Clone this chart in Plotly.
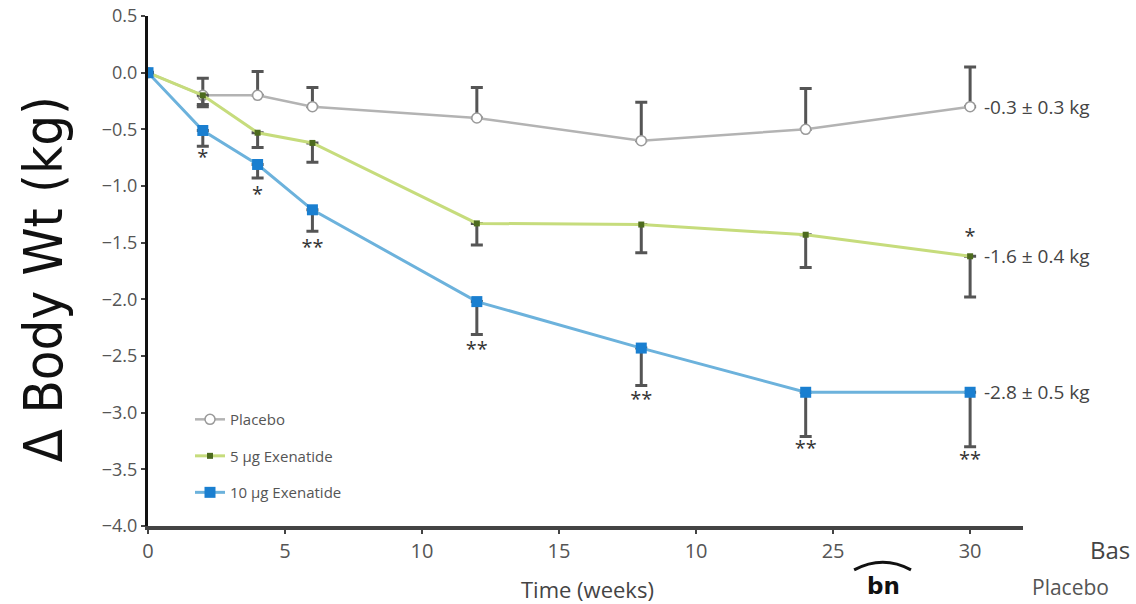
import plotly.graph_objects as go

weeks = [0, 2, 4, 6, 12, 18, 24, 30]
placebo = [0, -0.2, -0.2, -0.3, -0.4, -0.6, -0.5, -0.3]
placebo_err_up = [0, 0.15, 0.21, 0.17, 0.27, 0.34, 0.36, 0.35]
placebo_err_dn = [0, 0.08, 0, 0, 0, 0, 0, 0]
exe5 = [0, -0.2, -0.53, -0.62, -1.33, -1.34, -1.43, -1.62]
exe5_err_dn = [0, 0.1, 0.13, 0.17, 0.19, 0.25, 0.29, 0.36]
exe10 = [0, -0.51, -0.81, -1.21, -2.02, -2.43, -2.82, -2.82]
exe10_err_dn = [0, 0.14, 0.12, 0.19, 0.29, 0.33, 0.39, 0.48]

sig_x = [2, 4, 6, 12, 18, 24, 30, 30]
sig_y = [-0.76, -1.09, -1.56, -2.46, -2.9, -3.33, -3.43, -1.46]
sig_txt = ["*", "*", "**", "**", "**", "**", "**", "*"]

end_labels = ["-0.3 ± 0.3 kg", "-1.6 ± 0.4 kg", "-2.8 ± 0.5 kg"]
end_y = [placebo[-1], exe5[-1], exe10[-1]]

xtick_vals = [0, 5, 10, 15, 20, 25, 30]
xtick_text = ["0", "5", "10", "15", "10", "25", "30"]
ytick_vals = [0.5, 0.0, -0.5, -1.0, -1.5, -2.0, -2.5, -3.0, -3.5, -4.0]

ERR = "#555555"
FONT = "Open Sans"

fig = go.Figure()
fig.add_trace(go.Scatter(
    x=weeks, y=placebo, name="Placebo", mode="lines+markers",
    line=dict(color="#b3b3b3", width=2.5),
    marker=dict(symbol="circle", size=10, color="white", line=dict(color="#9a9a9a", width=1.5)),
    error_y=dict(type="data", symmetric=False, array=placebo_err_up, arrayminus=placebo_err_dn,
                 color=ERR, thickness=3, width=6),
    legendgroup="a",
))
fig.add_trace(go.Scatter(
    x=weeks, y=exe5, name="5 µg Exenatide", mode="lines+markers",
    line=dict(color="#c6dc7c", width=3),
    marker=dict(symbol="square", size=6, color="#4d6b1e"),
    error_y=dict(type="data", symmetric=False, array=[0] * len(weeks), arrayminus=exe5_err_dn,
                 color=ERR, thickness=3, width=6),
    legendgroup="b",
))
fig.add_trace(go.Scatter(
    x=weeks, y=exe10, name="10 µg Exenatide", mode="lines+markers",
    line=dict(color="#6cb2dc", width=3),
    marker=dict(symbol="square", size=11, color="#1a7fd0"),
    error_y=dict(type="data", symmetric=False, array=[0] * len(weeks), arrayminus=exe10_err_dn,
                 color=ERR, thickness=3, width=6),
    legendgroup="c",
))

# significance markers
fig.add_trace(go.Scatter(
    x=sig_x, y=sig_y, mode="text", text=sig_txt, showlegend=False,
    textfont=dict(family=FONT, size=20, color="#333333"), hoverinfo="skip",
))

for lab, yv in zip(end_labels, end_y):
    fig.add_annotation(x=weeks[-1], y=yv, text=lab, xanchor="left", yanchor="middle",
                       xshift=12, showarrow=False,
                       font=dict(family=FONT, size=19, color="#444444"))

# paper coords: plot area spans y 16..526 px
fig.add_annotation(xref="paper", yref="paper", x=-0.12, y=0.484, text="Δ Body Wt (kg)",
                   textangle=-90, showarrow=False, xanchor="center", yanchor="middle",
                   font=dict(family="DejaVu Sans Condensed, DejaVu Sans, sans-serif", size=54,
                             color="#111111"))
fig.add_annotation(xref="paper", yref="paper", x=0.502, y=-0.123, text="Time (weeks)",
                   showarrow=False, xanchor="center", yanchor="middle",
                   font=dict(family=FONT, size=22, color="#444444"))
fig.add_annotation(xref="paper", yref="paper", x=1.074, y=-0.047, text="Bas",
                   showarrow=False, xanchor="left", yanchor="middle",
                   font=dict(family=FONT, size=24, color="#444444"))
fig.add_annotation(xref="paper", yref="paper", x=1.054, y=-0.119, text="Placebo",
                   showarrow=False, xanchor="center", yanchor="middle",
                   font=dict(family=FONT, size=21, color="#555555"))
fig.add_annotation(xref="paper", yref="paper", x=0.84, y=-0.117, text="<b>bn</b>",
                   showarrow=False, xanchor="center", yanchor="middle",
                   font=dict(family="DejaVu Sans", size=23, color="#111111"))
fig.add_shape(type="path", xref="paper", yref="paper",
              path="M 0.807,-0.086 Q 0.84,-0.056 0.872,-0.086",
              line=dict(color="#111111", width=3))

fig.update_layout(
    width=1136, height=604,
    margin=dict(l=148, r=113, t=16, b=78),
    paper_bgcolor="white", plot_bgcolor="white",
    showlegend=True,
    legend=dict(x=0.048, y=0.241, xanchor="left", yanchor="top",
                font=dict(family=FONT, size=15, color="#555555"),
                bgcolor="rgba(0,0,0,0)", tracegroupgap=14, traceorder="grouped",
                itemwidth=30),
    xaxis=dict(range=[0, 31.93], tickvals=xtick_vals, ticktext=xtick_text, automargin=False,
               showgrid=False, zeroline=False, showline=True, linecolor="#444444", linewidth=4,
               ticks="outside", ticklen=4, tickwidth=2, tickcolor="#444444",
               tickfont=dict(family=FONT, size=20, color="#555555")),
    yaxis=dict(range=[-4.0, 0.5], tickvals=ytick_vals, tickformat=".1f", automargin=False,
               showgrid=False, zeroline=False, showline=True, linecolor="#111111", linewidth=3,
               ticks="outside", ticklen=4, tickwidth=2, tickcolor="#444444",
               ticklabeloverflow="allow",
               tickfont=dict(family=FONT, size=18, color="#555555")),
)

fig.write_html("out.html")
